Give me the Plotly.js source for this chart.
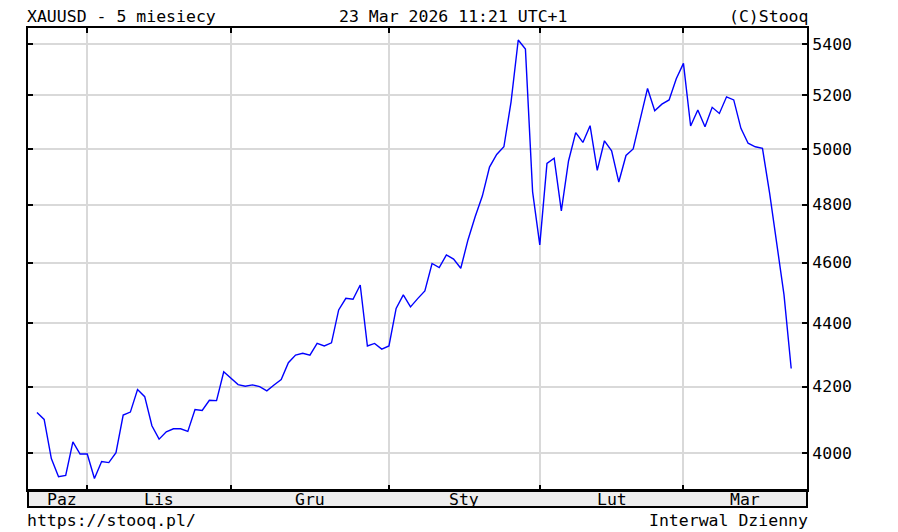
<!DOCTYPE html>
<html>
<head>
<meta charset="utf-8">
<script src="https://cdn.plot.ly/plotly-3.0.1.min.js"></script>
<style>
  html, body { margin: 0; padding: 0; background: #ffffff; }
  #chart { width: 898px; height: 532px; }
</style>
</head>
<body>
<div id="chart"></div>
<script>
// XAUUSD daily closes, 23 Oct 2025 - 23 Mar 2026 (trading-day index)
const closes = [
  4121, 4100, 3984, 3931, 3935, 4033, 3997,
  3997, 3926, 3975, 3972, 4001, 4113, 4122, 4191, 4169, 4081,
  4041, 4063, 4072, 4072, 4064, 4130, 4127, 4158, 4157, 4246,
  4226, 4206, 4201, 4205, 4200, 4187, 4205, 4222, 4274, 4298,
  4304, 4298, 4335, 4327, 4337, 4443, 4481, 4478, 4525, 4327,
  4335, 4317,
  4327, 4448, 4492, 4453, 4480, 4505, 4597, 4583, 4626, 4612,
  4581, 4677, 4757, 4830, 4934, 4980, 5008, 5176, 5416, 5380,
  4845,
  4660, 4947, 4966, 4778, 4956, 5060, 5024, 5086, 4922, 5030,
  4993, 4880, 4976, 5000, 5107, 5227, 5142, 5167, 5183, 5264,
  5324, 5085, 5145, 5082, 5155, 5132, 5195, 5183, 5076, 5021,
  5008, 5002, 4840, 4654, 4492, 4256
];
const dayIndex = closes.map((_, i) => i);

// first trading day of each month (index) and month names
const monthStarts = [7, 27, 49, 70, 90];
const monthLabels = ['Paz', 'Lis', 'Gru', 'Sty', 'Lut', 'Mar'];
const monthLabelPos = [3.5, 17, 38, 59.5, 80, 98.6];

const yTicks = [4000, 4200, 4400, 4600, 4800, 5000, 5200, 5400];
const yTickText = ['4000', '4200', '4400', '4600', '4800', '5000', '5200', '5400'];

const titleLeft = 'XAUUSD - 5 miesiecy';
const titleCenter = '23 Mar 2026 11:21 UTC+1';
const titleRight = '(C)Stooq';
const footLeft = 'https://stooq.pl/';
const footRight = 'Interwal Dzienny';

const FONT = 'DejaVu Sans Mono, monospace';
const FS = 16.5;

const xRange = [-1.25, 107.2];
const yRange = [Math.log10(3893), Math.log10(5464)];
const bandH = 17 / 462;

const annotations = [
  {text: titleLeft, xref: 'paper', yref: 'paper', x: 0, y: 1, xanchor: 'left', yanchor: 'bottom', xshift: -3, yshift: 0, showarrow: false},
  {text: titleCenter, xref: 'paper', yref: 'paper', x: 0.545, y: 1, xanchor: 'center', yanchor: 'bottom', yshift: 0, showarrow: false},
  {text: titleRight, xref: 'paper', yref: 'paper', x: 1, y: 1, xanchor: 'right', yanchor: 'bottom', xshift: 3, yshift: 0, showarrow: false},
  {text: footLeft, xref: 'paper', yref: 'paper', x: 0, y: -bandH, xanchor: 'left', yanchor: 'top', xshift: -3, yshift: -2, showarrow: false},
  {text: footRight, xref: 'paper', yref: 'paper', x: 1, y: -bandH, xanchor: 'right', yanchor: 'top', xshift: 3, yshift: -2, showarrow: false}
];
monthLabels.forEach((m, i) => {
  annotations.push({text: m, xref: 'x', yref: 'paper', x: monthLabelPos[i], y: -bandH / 2,
    xanchor: 'center', yanchor: 'middle', yshift: -1, showarrow: false});
});

const trace = {
  x: dayIndex, y: closes, type: 'scatter', mode: 'lines',
  line: {color: '#0000ff', width: 1.4}, hoverinfo: 'skip'
};

const layout = {
  width: 898, height: 532,
  margin: {l: 28, r: 91, t: 28, b: 42, pad: 0},
  paper_bgcolor: '#ffffff', plot_bgcolor: '#ffffff',
  showlegend: false,
  font: {family: FONT, size: FS, color: '#000000'},
  xaxis: {
    range: xRange, tickmode: 'array', tickvals: monthStarts,
    showticklabels: false, ticks: 'inside', ticklen: 5, tickwidth: 2, tickcolor: '#000',
    showgrid: true, gridcolor: '#d9d9d9', gridwidth: 2,
    showline: true, linecolor: '#000', linewidth: 2, mirror: 'ticks', zeroline: false, fixedrange: true
  },
  yaxis: {
    type: 'log', range: yRange, side: 'right',
    tickmode: 'array', tickvals: yTicks, ticktext: yTickText,
    ticks: 'inside', ticklen: 5, tickwidth: 2, tickcolor: '#000',
    showgrid: true, gridcolor: '#d9d9d9', gridwidth: 2,
    showline: true, linecolor: '#000', linewidth: 2, mirror: 'ticks', zeroline: false,
    tickfont: {family: FONT, size: FS, color: '#000'}, fixedrange: true
  },
  shapes: [
    {type: 'rect', xref: 'paper', yref: 'paper', x0: 0, x1: 1, y0: -bandH, y1: 0,
     fillcolor: '#eeeeee', line: {color: '#000', width: 2}, layer: 'below'}
  ],
  annotations: annotations
};

Plotly.newPlot('chart', [trace], layout, {displayModeBar: false, staticPlot: true});
</script>
</body>
</html>
